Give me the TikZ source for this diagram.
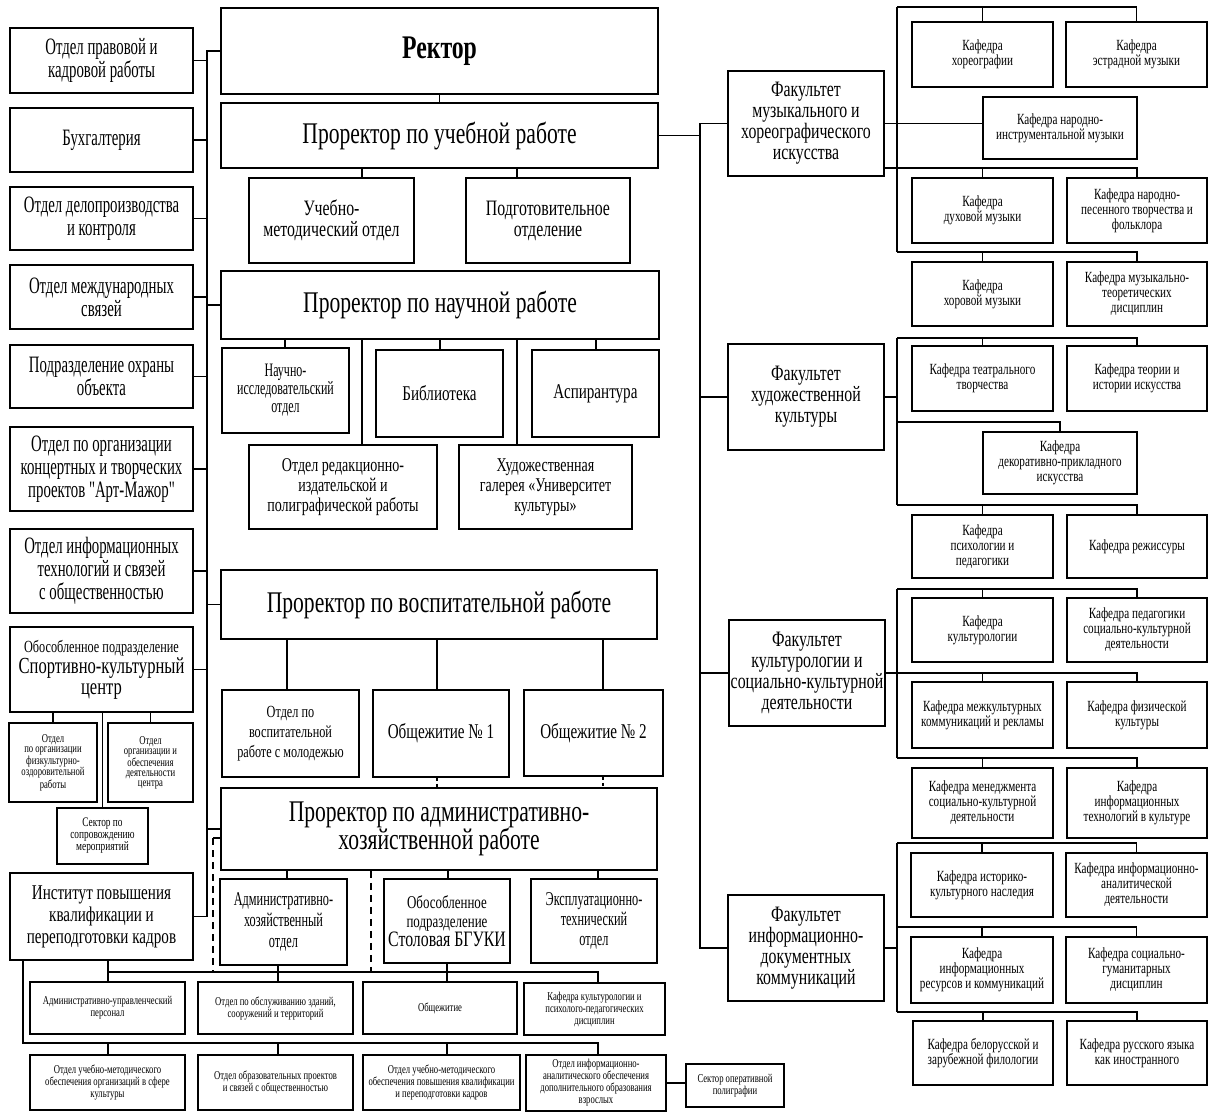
\documentclass[tikz,border=0pt]{standalone}
\usepackage{fontspec}
\setmainfont{Liberation Serif}
\newfontfamily\narrowserif[FakeStretch=0.72]{Liberation Serif}
\newfontfamily\narrowerserif[FakeStretch=0.63]{Liberation Serif}
\tikzset{
  org box/.style={draw,line width=1.5pt,inner sep=1pt,align=center},
  txt/.style 2 args={font=\narrowserif\fontsize{#1}{#2}\selectfont},
  ntxt/.style 2 args={font=\narrowerserif\fontsize{#1}{#2}\selectfont},
  head/.style={txt={30}{28}},
  dept/.style={ntxt={23.5}{23}},
  unit/.style={txt={21}{20}},
  faculty/.style={txt={22}{21}},
  chair/.style={txt={15.5}{15}},
  tiny/.style={txt={12}{10}},
  low/.style={txt={12}{12}},
}
\newcommand\orgbox[7]{%
  \node[org box,#6,minimum width={#4-#2},minimum height={#5-#3}] (#1) at ({(#2+#4)/2},{(#3+#5)/2}) {#7};}
\newcommand\tsz[1]{\fontsize{#1}{#1}\selectfont}

\begin{document}
\begin{tikzpicture}[x=1pt,y=-1pt,line width=1.2pt]
\useasboundingbox (0,0) rectangle (1208,1112);
% left column
\orgbox{pravo}{10}{28}{193}{93}{dept}{Отдел правовой и\\кадровой работы}
\orgbox{buh}{10}{108}{193}{172}{dept}{Бухгалтерия}
\orgbox{delo}{10}{187}{193}{250}{dept}{Отдел делопроизводства\\и контроля}
\orgbox{mezh}{10}{265}{193}{329}{dept}{Отдел международных\\связей}
\orgbox{ohr}{10}{345}{193}{408}{dept}{Подразделение охраны\\объекта}
\orgbox{art}{10}{427}{193}{511}{dept}{Отдел по организации\\концертных и творческих\\проектов "Арт-Мажор"}
\orgbox{it}{10}{529}{193}{613}{dept}{Отдел информационных\\технологий и связей\\с общественностью}
\orgbox{sport}{10}{627}{193}{712}{txt={23}{21}}{{\tsz{17}Обособленное подразделение}\\Спортивно-культурный\\центр}
\orgbox{fizo}{9}{723}{97}{802}{tiny}{Отдел\\по организации\\физкультурно-\\оздоровительной\\работы}
\orgbox{obesp}{108}{723}{193}{802}{tiny}{Отдел\\организации и\\обеспечения\\деятельности\\центра}
\orgbox{sopr}{57}{808}{148}{864}{txt={13}{12}}{Сектор по\\сопровождению\\мероприятий}
\orgbox{inst}{10}{873}{193}{960}{txt={21}{22}}{Институт повышения\\квалификации и\\переподготовки кадров}
% middle column
\orgbox{rektor}{221}{8}{658}{94}{txt={33}{30}}{\bfseries Ректор}
\orgbox{ucheb}{221}{103}{658}{168}{head}{Проректор по учебной работе}
\orgbox{umo}{249}{178}{414}{263}{faculty}{Учебно-\\методический отдел}
\orgbox{podg}{466}{178}{630}{263}{faculty}{Подготовительное\\отделение}
\orgbox{nauch}{221}{271}{659}{339}{head}{Проректор по научной работе}
\orgbox{nio}{222}{348}{349}{433}{ntxt={19}{18}}{Научно-\\исследовательский\\отдел}
\orgbox{bib}{376}{350}{503}{437}{unit}{Библиотека}
\orgbox{asp}{532}{350}{659}{437}{unit}{Аспирантура}
\orgbox{redak}{249}{445}{437}{529}{txt={19.5}{20}}{Отдел редакционно-\\издательской и\\полиграфической работы}
\orgbox{gal}{459}{445}{632}{529}{txt={19.5}{20}}{Художественная\\галерея «Университет\\культуры»}
\orgbox{vosp}{221}{570}{657}{639}{head}{Проректор по воспитательной работе}
\orgbox{ovr}{222}{690}{359}{777}{txt={17}{20}}{Отдел по\\воспитательной\\работе с молодежью}
\orgbox{obi}{373}{690}{509}{777}{unit}{Общежитие № 1}
\orgbox{obii}{524}{690}{663}{776}{unit}{Общежитие № 2}
\orgbox{ahr}{221}{788}{657}{870}{head}{Проректор по административно-\\хозяйственной работе}
\orgbox{ahx}{220}{879}{347}{965}{ntxt={19.5}{21}}{Административно-\\хозяйственный\\отдел}
\orgbox{stol}{384}{879}{510}{963}{txt={22}{19}}{{\tsz{18}Обособленное}\\{\tsz{18}подразделение}\\Столовая БГУКИ}
\orgbox{ekspl}{531}{879}{657}{963}{ntxt={19.5}{20}}{Эксплуатационно-\\технический\\отдел}
% bottom rows
\orgbox{aup}{30}{982}{185}{1034}{low}{Административно-управленческий\\персонал}
\orgbox{obsl}{198}{982}{353}{1034}{low}{Отдел по обслуживанию зданий,\\сооружений и территорий}
\orgbox{obsh}{363}{982}{517}{1034}{low}{Общежитие}
\orgbox{kafk}{524}{983}{665}{1035}{low}{Кафедра культурологии и\\психолого-педагогических\\дисциплин}
\orgbox{umosk}{30}{1055}{185}{1110}{low}{Отдел учебно-методического\\обеспечения организаций в сфере\\культуры}
\orgbox{obrp}{198}{1055}{353}{1110}{low}{Отдел образовательных проектов\\и связей с общественностью}
\orgbox{umopk}{363}{1055}{520}{1110}{low}{Отдел учебно-методического\\обеспечения повышения квалификации\\и переподготовки кадров}
\orgbox{otdinf}{526}{1055}{666}{1111}{low}{Отдел информационно-\\аналитического обеспечения\\дополнительного образования\\взрослых}
\orgbox{sop}{686}{1064}{784}{1107}{low}{Сектор оперативной\\полиграфии}
% faculties
\orgbox{muz}{728}{71}{884}{176}{faculty}{Факультет\\музыкального и\\хореографического\\искусства}
\orgbox{hud}{728}{344}{884}{450}{faculty}{Факультет\\художественной\\культуры}
\orgbox{kult}{729}{620}{885}{726}{faculty}{Факультет\\культурологии и\\социально-культурной\\деятельности}
\orgbox{idk}{728}{895}{884}{1001}{faculty}{Факультет\\информационно-\\документных\\коммуникаций}
% chairs
\orgbox{hore}{912}{22}{1053}{87}{chair}{Кафедра\\хореографии}
\orgbox{estr}{1066}{22}{1207}{87}{chair}{Кафедра\\эстрадной музыки}
\orgbox{nar}{983}{97}{1137}{159}{chair}{Кафедра народно-\\инструментальной музыки}
\orgbox{duh}{912}{178}{1053}{243}{chair}{Кафедра\\духовой музыки}
\orgbox{npt}{1067}{178}{1207}{243}{chair}{Кафедра народно-\\песенного творчества и\\фольклора}
\orgbox{hora}{912}{262}{1053}{326}{chair}{Кафедра\\хоровой музыки}
\orgbox{mt}{1067}{262}{1207}{326}{chair}{Кафедра музыкально-\\теоретических\\дисциплин}
\orgbox{teatr}{912}{346}{1053}{411}{chair}{Кафедра театрального\\творчества}
\orgbox{tii}{1067}{346}{1207}{411}{chair}{Кафедра теории и\\истории искусства}
\orgbox{dpi}{983}{432}{1137}{494}{chair}{Кафедра\\декоративно-прикладного\\искусства}
\orgbox{pp}{912}{515}{1053}{578}{chair}{Кафедра\\психологии и\\педагогики}
\orgbox{rej}{1067}{515}{1207}{578}{chair}{Кафедра режиссуры}
\orgbox{kul}{912}{598}{1053}{662}{chair}{Кафедра\\культурологии}
\orgbox{pskd}{1067}{598}{1207}{662}{chair}{Кафедра педагогики\\социально-культурной\\деятельности}
\orgbox{mkr}{912}{682}{1053}{748}{chair}{Кафедра межкультурных\\коммуникаций и рекламы}
\orgbox{fiz}{1067}{682}{1207}{748}{chair}{Кафедра физической\\культуры}
\orgbox{mskd}{912}{768}{1053}{838}{chair}{Кафедра менеджмента\\социально-культурной\\деятельности}
\orgbox{itk}{1067}{768}{1207}{838}{chair}{Кафедра\\информационных\\технологий в культуре}
\orgbox{ikn}{911}{853}{1053}{917}{chair}{Кафедра историко-\\культурного наследия}
\orgbox{iad}{1066}{853}{1207}{917}{chair}{Кафедра информационно-\\аналитической\\деятельности}
\orgbox{irk}{911}{937}{1053}{1003}{chair}{Кафедра\\информационных\\ресурсов и коммуникаций}
\orgbox{sgd}{1066}{937}{1207}{1003}{chair}{Кафедра социально-\\гуманитарных\\дисциплин}
\orgbox{bzf}{913}{1021}{1053}{1085}{chair}{Кафедра белорусской и\\зарубежной филологии}
\orgbox{rki}{1067}{1021}{1207}{1085}{chair}{Кафедра русского языка\\как иностранного}

% left trunk
\draw (rektor.west) -| (inst.east -| 207,0) -- (inst.east);
\foreach \n in {pravo,buh,delo,mezh,ohr,art,it,sport}
  \draw (\n.east) -- (\n.east -| 207,0);
\foreach \n in {nauch,vosp,ahr}
  \draw (\n.west) -- (\n.west -| 207,0);
\foreach \n in {fizo,obesp,sopr}
  \draw (\n.north) -- (\n.north |- sport.south);
% vice-rectors
\draw (rektor) -- (ucheb);
\foreach \n/\x in {umo/362,podg/517}
  \draw (ucheb.south -| \x,0) -- (\n.north -| \x,0);
\foreach \n/\x in {nio/285,bib/440,asp/596,redak/362,gal/517}
  \draw (nauch.south -| \x,0) -- (\n.north -| \x,0);
\foreach \n/\x in {ovr/287,obi/437,obii/603}
  \draw (vosp.south -| \x,0) -- (\n.north -| \x,0);
\foreach \n/\x in {obi/437,obii/603}
  \draw[dash pattern=on 3pt off 3pt] (\n.south -| \x,0) -- (ahr.north -| \x,0);
\foreach \n/\x in {ahx/287,stol/448,ekspl/598}
  \draw (ahr.south -| \x,0) -- (\n.north -| \x,0);
\draw (ahr.west |- 0,838) -- (213,838);
\draw[dash pattern=on 7pt off 5pt] (213,838) -- (213,972);
\draw[dash pattern=on 7pt off 5pt] (ahr.south -| 371,0) -- (371,972);
% institute
\draw (inst.south -| 108,0) -- (aup.north -| 108,0);
\draw (108,972) -- (598,972) -- (kafk.north -| 598,0);
\draw (ahx.south -| 278,0) -- (obsl.north -| 278,0);
\draw (stol.south -| 447,0) -- (obsh.north -| 447,0);
\draw (inst.south -| 23,0) |- (598,1043) -- (otdinf.north -| 598,0);
\foreach \n/\x in {umosk/108,obrp/278,umopk/447}
  \draw (\x,1043) -- (\n.north -| \x,0);
\draw (otdinf.east) -- (otdinf.east -| sop.west);
% right trunk
\draw (ucheb.east) -- (ucheb.east -| 700,0);
\draw (muz.west) -| (idk.west -| 700,0) -- (idk.west);
\foreach \n in {hud,kult}
  \draw (\n.west) -- (\n.west -| 700,0);
% faculty buses
\draw (muz.east) -- (muz.east -| nar.west);
\draw (muz.east |- 0,168) -- (897,168);
\foreach \n in {hud,idk}
  \draw (\n.east) -- (\n.east -| 897,0);
\foreach \a/\b in {7/252,338/505,589/758,843/1012}
  \draw (897,\a) -- (897,\b);
\foreach \l/\r/\y in {hore/estr/7,duh/npt/168,hora/mt/252,teatr/tii/338,pp/rej/505,
    kul/pskd/589,mskd/itk/758,ikn/iad/843,irk/sgd/927,bzf/rki/1012}{
  \draw (897,\y) -| (\r.north);
  \draw (\l.north) -- (\l.north |- 0,\y);
}
\draw (897,422) -| (dpi.north);
\draw (kult.east) -| (fiz.north);
\draw (mkr.north) -- (mkr.north |- kult.east);
\end{tikzpicture}
\end{document}
